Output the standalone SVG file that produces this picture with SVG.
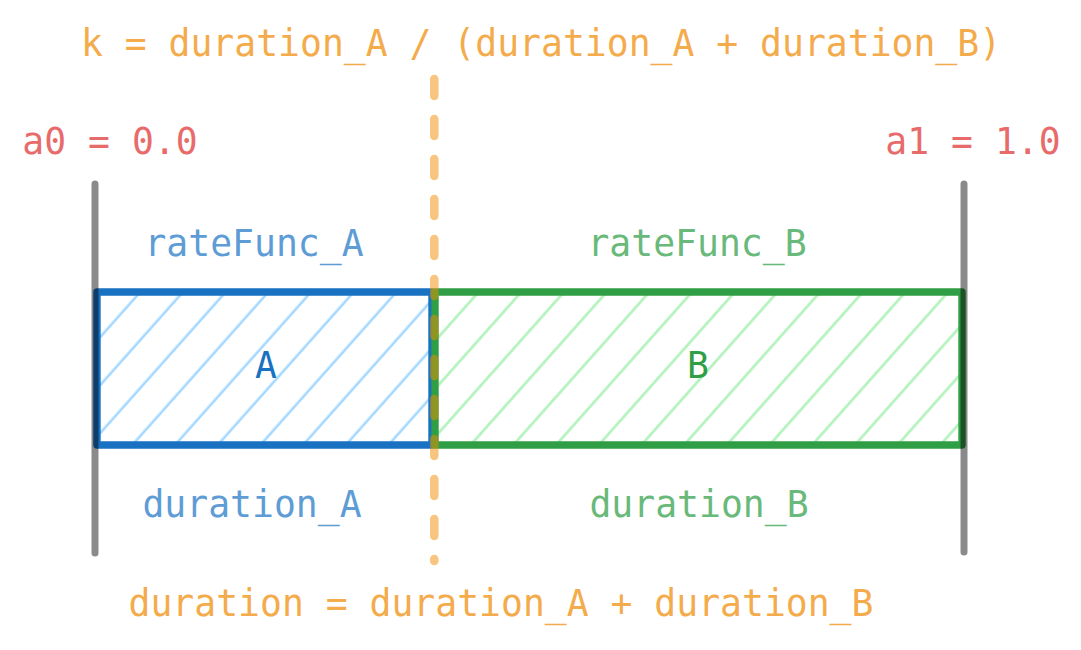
<svg xmlns="http://www.w3.org/2000/svg" width="1081" height="650" viewBox="0 0 1081 650">
<style>
text{font-family:"DejaVu Sans Mono","Liberation Mono",monospace;font-size:36.4px;text-anchor:middle}
.or{fill:#f4ab4b}
.rd{fill:#e86b6c}
.bl{fill:#5e9cd6}
.gr{fill:#69b97a}
.frame{fill:none;stroke-width:7.4;stroke-linejoin:round}
.post{stroke:#000;stroke-opacity:0.46;stroke-width:7;stroke-linecap:round}
</style>
<defs>
<pattern id="hatchA" patternUnits="userSpaceOnUse" width="31.9" height="10" patternTransform="rotate(41.65)">
<rect x="10.5" y="-1" width="2.6" height="12" fill="#a5d8ff"/>
</pattern>
<pattern id="hatchB" patternUnits="userSpaceOnUse" width="31.9" height="10" patternTransform="rotate(41.65)">
<rect x="8.1" y="-1" width="2.6" height="12" fill="#b2f2bb"/>
</pattern>
</defs>
<rect width="1081" height="650" fill="#fff"/>
<g id="nodeA">
<rect x="97" y="292" width="335" height="153" fill="url(#hatchA)"/>
<rect class="frame" x="97" y="292" width="335" height="153" stroke="#1971c2"/>
<text x="266" y="378" fill="#1971c2">A</text>
</g>
<g id="nodeB">
<rect x="435" y="292" width="527" height="153" fill="url(#hatchB)"/>
<rect class="frame" x="435" y="292" width="527" height="153" stroke="#2f9e44"/>
<text x="698" y="378" fill="#2f9e44">B</text>
</g>
<g id="connectors">
<line class="post" x1="95" y1="184" x2="95" y2="553"/>
<line class="post" x1="964" y1="184" x2="964" y2="552"/>
<line x1="434.3" y1="79" x2="434.3" y2="561" stroke="#f08c00" stroke-opacity="0.5" stroke-width="8.5" stroke-linecap="round" stroke-dasharray="17 23"/>
</g>
<g id="labels">
<text class="or" x="541" y="56">k = duration_A / (duration_A + duration_B)</text>
<text class="rd" x="110" y="154">a0 = 0.0</text>
<text class="rd" x="973" y="154">a1 = 1.0</text>
<text class="bl" x="254" y="256">rateFunc_A</text>
<text class="gr" x="697" y="256">rateFunc_B</text>
<text class="bl" x="252" y="517">duration_A</text>
<text class="gr" x="699" y="517">duration_B</text>
<text class="or" x="501" y="616">duration = duration_A + duration_B</text>
</g>
</svg>
